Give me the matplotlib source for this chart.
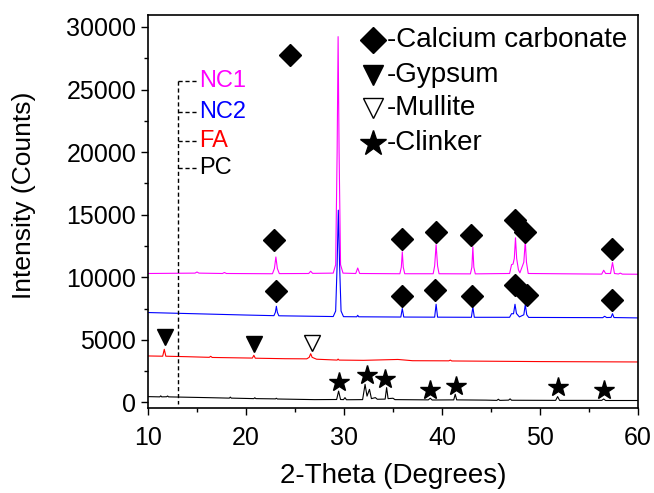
import numpy as np
import matplotlib.pyplot as plt
from matplotlib.ticker import MultipleLocator

plt.rcParams['font.family'] = ['Liberation Sans', 'DejaVu Sans']

# line vertices (2-theta, counts)
nc1 = [(10, 10300), (14.8, 10330), (15.0, 10420), (15.2, 10330), (17.6, 10300), (17.8, 10380),
       (18.0, 10300), (22.7, 10280), (22.9, 10700), (23.05, 11620), (23.2, 10700), (23.4, 10290),
       (26.4, 10300), (26.6, 10480), (26.8, 10310), (28.9, 10330), (29.15, 11000), (29.3, 20000),
       (29.4, 29230), (29.5, 20000), (29.65, 11000), (29.9, 10330), (31.2, 10300), (31.4, 10740),
       (31.6, 10300), (35.7, 10280), (35.85, 10800), (35.95, 12030), (36.05, 10800), (36.2, 10280),
       (39.1, 10280), (39.25, 10900), (39.4, 12610), (39.55, 10900), (39.7, 10280), (42.9, 10270),
       (43.05, 10800), (43.15, 12430), (43.25, 10800), (43.4, 10270), (46.9, 10300), (47.1, 11010),
       (47.25, 11050), (47.38, 11500), (47.5, 13150), (47.62, 11500), (47.8, 10600), (47.95, 10350),
       (48.35, 11200), (48.5, 12880), (48.62, 11200), (48.8, 10300), (56.3, 10250), (56.5, 10560),
       (56.7, 10300), (57.2, 10300), (57.4, 11180), (57.6, 10300), (58.0, 10260), (58.2, 10330),
       (58.4, 10250), (60, 10240)]
nc2 = [(10, 7180), (15, 7080), (20, 6980), (22.85, 6930), (23.0, 7200), (23.1, 7680), (23.2, 7200),
       (23.35, 6920), (28.9, 6860), (29.15, 7300), (29.3, 11000), (29.42, 15360), (29.55, 11000),
       (29.7, 7300), (29.95, 6850), (31.3, 6840), (31.4, 6960), (31.5, 6840), (35.8, 6820),
       (35.95, 7500), (36.1, 6820), (39.25, 6810), (39.4, 7840), (39.55, 6810), (43.0, 6800),
       (43.15, 7620), (43.3, 6800), (46.9, 6800), (47.1, 7090), (47.3, 7080), (47.45, 7840),
       (47.6, 7100), (47.9, 6830), (48.35, 7000), (48.5, 7810), (48.65, 7000), (48.85, 6790),
       (56.4, 6770), (56.6, 6880), (56.8, 6780), (57.25, 6790), (57.4, 7090), (57.55, 6780), (60, 6750)]
fa = [(10, 3710), (11.5, 3690), (11.66, 4240), (11.82, 3690), (14, 3650), (16.25, 3600), (16.4, 3680),
      (16.55, 3590), (20.65, 3540), (20.8, 3760), (20.95, 3530), (24, 3490), (26.2, 3480), (26.45, 3600),
      (26.6, 3890), (26.75, 3600), (27.2, 3450), (29.3, 3380), (29.4, 3460), (29.5, 3380), (32, 3360),
      (34, 3400), (35.5, 3430), (37, 3330), (40.7, 3320), (40.85, 3380), (41.0, 3310), (50, 3260),
      (60, 3230)]
pc = [(10, 460), (11.2, 440), (11.3, 520), (11.4, 440), (11.9, 450), (12.0, 510), (12.1, 440), (16, 380),
      (18.3, 340), (18.4, 420), (18.5, 340), (20.8, 300), (20.9, 370), (21.0, 300), (23.0, 280),
      (23.1, 330), (23.2, 270), (27, 220), (29.25, 230), (29.45, 900), (29.65, 230), (29.95, 220),
      (30.1, 380), (30.25, 210), (31.9, 220), (32.15, 1440), (32.35, 500), (32.6, 1040), (32.8, 300),
      (33.2, 380), (33.4, 250), (34.2, 260), (34.35, 1180), (34.5, 300), (35.0, 330), (35.2, 220),
      (38.6, 200), (38.8, 330), (39.0, 190), (41.2, 200), (41.35, 650), (41.5, 200), (44.5, 180),
      (45.6, 160), (45.75, 250), (45.9, 160), (46.8, 180), (46.95, 280), (47.1, 170), (51.6, 160),
      (51.8, 460), (52.0, 160), (56.3, 160), (56.5, 270), (56.7, 150), (60, 150)]

series_names = ['NC1', 'NC2', 'FA', 'PC']
series_colors = ['#FF00FF', '#0000FF', '#FF0000', '#000000']

# phase markers
cc_x = [24.45, 22.9, 35.9, 39.35, 43.0, 47.4, 48.5, 57.4, 23.1, 35.9, 39.3, 43.1, 47.5, 48.7, 57.4]
cc_y = [27760, 12960, 13040, 13600, 13360, 14560, 13630, 12240, 8880, 8480, 8960, 8530, 9360, 8560, 8160]
gyp_x = [11.73, 20.8]
gyp_y = [5240, 4640]
mul_x = [26.7]
mul_y = [4720]
clk_x = [29.5, 32.3, 34.2, 38.8, 41.4, 51.8, 56.5]
clk_y = [1600, 2160, 1840, 1010, 1300, 1220, 960]

key_labels = ['-Calcium carbonate', '-Gypsum', '-Mullite', '-Clinker']
key_y = [28960, 26160, 23520, 20720]
name_y = [25680, 23200, 20880, 18720]

fig = plt.figure(figsize=(6.54, 4.93), dpi=100)
ax = fig.add_axes([0.2263, 0.1724, 0.7492, 0.7972])

for data, c in zip([nc1, nc2, fa, pc], series_colors):
    x, y = np.array(data).T
    ax.plot(x, y, color=c, lw=0.8)

ax.plot(cc_x, cc_y, 'D', color='k', ms=11, ls='none')
ax.plot(gyp_x, gyp_y, 'v', color='k', ms=11, ls='none')
ax.plot(mul_x, mul_y, 'v', mfc='white', mec='k', mew=1, ms=11, ls='none')
ax.plot(clk_x, clk_y, '*', color='k', ms=15, ls='none')

# phase key
kx = 32.96
ax.plot([kx], [key_y[0]], 'D', color='k', ms=13)
ax.plot([kx], [key_y[1]], 'v', color='k', ms=14)
ax.plot([kx], [key_y[2]], 'v', mfc='white', mec='k', mew=1, ms=14)
ax.plot([kx], [key_y[3]], '*', color='k', ms=19)
for lab, yy in zip(key_labels, key_y):
    ax.text(34.4, yy, lab, fontsize=20, va='center', ha='left')

# sample labels with dashed bracket
ax.plot([13.06, 13.06], [name_y[0], -150], color='k', lw=1, ls=(0, (3, 2)))
for nm, c, yy in zip(series_names, series_colors, name_y):
    ax.plot([13.06, 15.1], [yy, yy], color='k', lw=1, ls=(0, (3, 2)))
    ax.text(15.2, yy, nm, color=c, fontsize=17, va='center', ha='left')

ax.set_xlim(10, 60)
ax.set_ylim(-450, 30960)
ax.xaxis.set_major_locator(MultipleLocator(10))
ax.xaxis.set_minor_locator(MultipleLocator(5))
ax.yaxis.set_major_locator(MultipleLocator(5000))
ax.yaxis.set_minor_locator(MultipleLocator(2500))
ax.tick_params(which='both', direction='out', width=1, labelsize=18, top=False, right=False)
ax.tick_params(which='major', length=5)
ax.tick_params(axis='x', which='major', pad=8)
ax.tick_params(which='minor', length=3)
for s in ax.spines.values():
    s.set_linewidth(1.2)
ax.set_xlabel('2-Theta (Degrees)', fontsize=20, va='top')
ax.xaxis.set_label_coords(0.5, -0.14)
ax.set_ylabel('Intensity (Counts)', fontsize=19)
ax.yaxis.set_label_coords(-0.228, 0.54)

fig.savefig('out.png', dpi=100)
